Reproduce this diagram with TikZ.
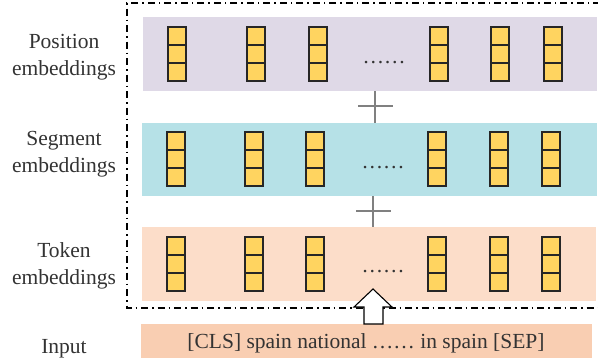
\documentclass[tikz,border=0pt]{standalone}
\usepackage{fontspec}
\setmainfont{Liberation Serif}
\definecolor{poscol}{HTML}{DFD9E7}
\definecolor{segcol}{HTML}{B6E1E7}
\definecolor{tokcol}{HTML}{FCDDC9}
\definecolor{inpcol}{HTML}{F9CEB2}
\definecolor{cellyellow}{HTML}{FFD460}
\definecolor{txtcol}{HTML}{333333}
\begin{document}
\begin{tikzpicture}[x=1pt,y=-1pt,
  cell/.style={draw=black!85, fill=cellyellow, minimum width=18pt, minimum height=18pt, line width=1.1pt, inner sep=0pt},
  band/.style={inner sep=0pt, anchor=north west, draw=none},
  lbl/.style={font=\fontsize{21.5}{26.5}\selectfont, text=txtcol, align=center, inner sep=0pt},
  dots/.style={font=\fontsize{21.5}{26}\selectfont, text=txtcol, anchor=base, inner sep=0pt},
  plusline/.style={draw=black!50, line width=1.2pt},
  frame/.style={line width=1.2pt, dash pattern=on 7pt off 4pt on 1.5pt off 4pt}]
\useasboundingbox (0,0) rectangle (598,360);

% bands
\node[band, fill=poscol, minimum width=454pt, minimum height=74pt] (pos) at (143,17) {};
\node[band, fill=segcol, minimum width=455pt, minimum height=73pt] (seg) at (142,123) {};
\node[band, fill=tokcol, minimum width=454pt, minimum height=74pt] (tok) at (142,227) {};
\node[band, fill=inpcol, minimum width=451pt, minimum height=34pt] (inp) at (141,324) {};

% cells
\foreach \x [count=\i] in {177,256,318,439,500,553}{
  \node[cell] (p\i a) at (\x,36) {};
  \node[cell] (p\i b) at (\x,54) {};
  \node[cell] (p\i c) at (\x,72) {};
}
\foreach \x [count=\i] in {176,254,315,437,499,551}{
  \node[cell] (s\i a) at (\x,141) {};
  \node[cell] (s\i b) at (\x,159) {};
  \node[cell] (s\i c) at (\x,177) {};
  \node[cell] (t\i a) at (\x,246) {};
  \node[cell] (t\i b) at (\x,264) {};
  \node[cell] (t\i c) at (\x,282) {};
}

% dots
\node[dots] (pdots) at (384,63) {……};
\node[dots] (sdots) at (383,168) {……};
\node[dots] (tdots) at (383,272) {……};

% plus signs
\coordinate (plusA) at (375,106);
\coordinate (plusB) at (373,211);
\draw[plusline] (plusA |- pos.south) -- (plusA |- seg.north);
\draw[plusline] ([xshift=-17pt]plusA) -- ([xshift=18pt]plusA);
\draw[plusline] (plusB |- seg.south) -- (plusB |- tok.north);
\draw[plusline] ([xshift=-17pt]plusB) -- ([xshift=18pt]plusB);

% dash-dot frame (right side outside the picture)
\coordinate (frTR) at (600,3);
\coordinate (frTL) at (127,3);
\coordinate (frBL) at (127,308);
\coordinate (frBR) at (600,308);
\draw[frame] (frTR) -- (frTL) -- (frBL) -- (frBR);

% hollow arrow
\coordinate (tip) at (373,289);
\draw[fill=white, line width=1.1pt, line join=miter]
  (tip) -- (392,307) -- (383,307) -- (383,324) -- (364,324) -- (364,307) -- (354,307) -- cycle;

% texts
\node[lbl] (lpos) at (64,57) {Position\\embeddings};
\node[lbl] (lseg) at (64,154) {Segment\\embeddings};
\node[lbl] (ltok) at (64,266) {Token\\embeddings};
\node[lbl, anchor=base] (linp) at (64,353) {Input};
\node[lbl, anchor=base] (tinp) at (366,348) {[CLS] spain national …… in spain [SEP]};
\end{tikzpicture}
\end{document}
